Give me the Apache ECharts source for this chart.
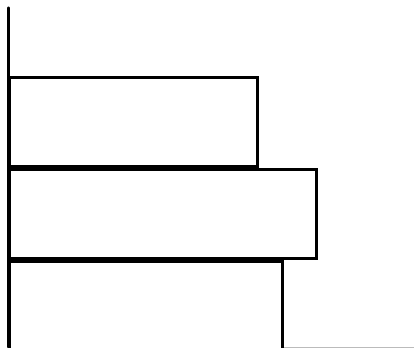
<!DOCTYPE html>
<html>
<head>
<meta charset="utf-8">
<script src="https://cdn.jsdelivr.net/npm/echarts@6/dist/echarts.min.js"></script>
<style>
  html, body { margin: 0; padding: 0; background: #fff; }
  #main { width: 414px; height: 348px; }
</style>
</head>
<body>
<div id="main"></div>
<script>
// categories top to bottom
var categories = ['A', 'B', 'C'];
var values = [251, 310, 276];
var axisMax = 406;

var chart = echarts.init(document.getElementById('main'));
chart.setOption({
  animation: false,
  grid: [
    // bars (the last one runs past the bottom edge)
    { left: 8, right: 0, top: 76, height: 276, outerBoundsMode: 'none', containLabel: false },
    // upper part of the vertical axis, above the first bar
    { left: 8, right: 0, top: 8, height: 68, outerBoundsMode: 'none', containLabel: false }
  ],
  xAxis: [
    {
      gridIndex: 0, type: 'value', min: 0, max: axisMax,
      offset: -5,
      axisLine: { show: true, lineStyle: { color: '#bbb', width: 1 } },
      axisTick: { show: false }, axisLabel: { show: false }, splitLine: { show: false }
    },
    {
      gridIndex: 1, type: 'value', min: 0, max: axisMax, show: false
    }
  ],
  yAxis: [
    {
      gridIndex: 0, type: 'category', data: categories, inverse: true,
      axisLine: { show: true, onZero: false, lineStyle: { color: '#000', width: 3 } },
      axisTick: { show: false }, axisLabel: { show: false }
    },
    {
      gridIndex: 1, type: 'value',
      axisLine: { show: true, onZero: false, lineStyle: { color: '#000', width: 3 } },
      axisTick: { show: false }, axisLabel: { show: false }, splitLine: { show: false }
    }
  ],
  series: [{
    type: 'bar',
    xAxisIndex: 0,
    yAxisIndex: 0,
    data: values,
    barCategoryGap: 0,
    itemStyle: { color: '#fff', borderColor: '#000', borderWidth: 3 }
  }]
});
</script>
</body>
</html>
